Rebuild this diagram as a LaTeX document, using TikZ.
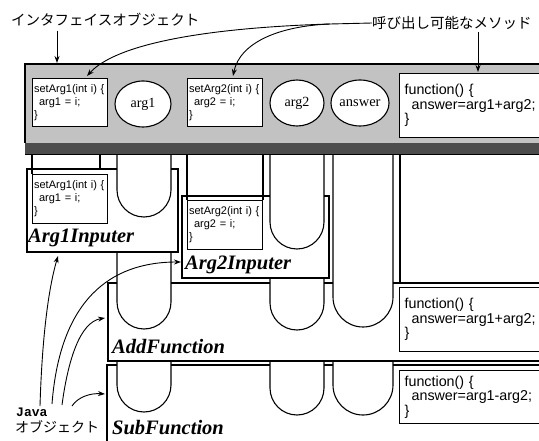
\documentclass[tikz,border=0pt]{standalone}
\usepackage{fontspec}
\setmainfont{Liberation Serif}
\setsansfont{Liberation Sans}
\setmonofont{Liberation Mono}
\newfontfamily\jpfont{Noto Sans CJK JP}
\usetikzlibrary{arrows.meta,shapes.geometric}
\tikzset{
  ln/.style={line width=1.1pt},
  arr/.style={line width=0.9pt,-{Stealth[length=7pt,width=5pt]}},
  mbox/.style={draw, line width=1.2pt, fill=white, anchor=north west, inner xsep=1.5pt, inner ysep=0pt,
    text width=72pt, minimum height=48pt, align=left, font=\sffamily\fontsize{11}{13}\selectfont},
  fbox/.style={draw, line width=1.2pt, fill=white, anchor=north west, inner xsep=5pt, inner ysep=0pt,
    text width=136pt, align=left, font=\sffamily\fontsize{14.3}{14.5}\selectfont},
  var/.style={draw, ellipse, line width=1.1pt, fill=white, inner sep=0pt, minimum height=46pt,
    font=\fontsize{14}{14}\selectfont},
  objlbl/.style={anchor=base west, inner sep=0pt, font=\bfseries\itshape\fontsize{20.5}{20}\selectfont},
  jplbl/.style={inner sep=0pt, font=\jpfont\fontsize{14.5}{14}\selectfont},
}
\newcommand\myU[4]{%
  \pgfmathsetmacro\uxc{(#1+#2)/2}\pgfmathsetmacro\ur{(#2-#1)/2}%
  \pgfmathsetmacro\uyc{#4-\ur}\pgfmathsetmacro\uk{0.552*\ur}%
  \draw[ln] (#1,#3) -- (#1,\uyc) .. controls (#1,\uyc+\uk) and (\uxc-\uk,#4) .. (\uxc,#4)
    .. controls (\uxc+\uk,#4) and (#2,\uyc+\uk) .. (#2,\uyc) -- (#2,#3);}
\begin{document}
\begin{tikzpicture}[x=1pt,y=-1pt]
\useasboundingbox (0,0) rectangle (539,441);
\clip (0,0) rectangle (539,441);
% interface object
\fill[black!24] (25,64) rectangle (545,143);
\draw[line width=1.3pt] (25,143) -- (25,64) -- (545,64);
\fill[black!70] (25,143) rectangle (545,155);
\draw[line width=1pt] (25,155) -- (545,155);
\node[mbox] (m1) at (32,78) {setArg1(int i) \{\\\hspace*{5pt}arg1 = i;\\\}};
\node[var, minimum width=56pt] (v1) at (143,104) {arg1};
\node[mbox] (m2) at (187,78) {setArg2(int i) \{\\\hspace*{5pt}arg2 = i;\\\}};
\node[var, minimum width=54pt] (v2) at (297,103) {arg2};
\node[var, minimum width=55pt, font=\fontsize{14.5}{14}\selectfont] (v3) at (360,103) {answer};
\node[fbox, minimum height=64pt] (f0) at (399,73) {function() \{\\\hspace*{7pt}answer=arg1+arg2;\\\}};
% pipes from the interface
\draw[ln] (32,155) -- (32,174);
\draw[ln] (100,155) -- (100,169);
\myU{117}{171}{155}{217}
\draw[ln] (187,155) -- (187,200);
\draw[ln] (263,155) -- (263,200);
\myU{270}{324}{155}{249}
\myU{333}{393}{155}{327}
\draw[ln] (400,155) -- (400,283);
% Arg1Inputer
\draw[ln] (117,169) -- (27,169) -- (27,252) -- (178,252) -- (178,169) -- (171,169);
\node[mbox, minimum height=49pt] (m1b) at (32,174) {setArg1(int i) \{\\\hspace*{5pt}arg1 = i;\\\}};
\node[objlbl] (o1) at (28,243) {Arg1Inputer};
% Arg2Inputer
\draw[ln] (270,196) -- (182,196) -- (182,278) -- (329,278) -- (329,196) -- (324,196);
\node[mbox, minimum height=49pt] (m2b) at (187,200) {setArg2(int i) \{\\\hspace*{5pt}arg2 = i;\\\}};
\node[objlbl] (o2) at (185,270) {Arg2Inputer};
% AddFunction
\myU{117}{171}{252}{329}
\myU{270}{324}{278}{330}
\draw[ln] (117,283) -- (108,283) -- (108,361) -- (545,361);
\draw[ln] (171,283) -- (270,283);
\draw[ln] (324,283) -- (333,283);
\draw[ln] (393,283) -- (545,283);
\node[fbox, minimum height=64pt] (f1) at (399,287) {function() \{\\\hspace*{7pt}answer=arg1+arg2;\\\}};
\node[objlbl] (o3) at (112,353) {AddFunction};
% SubFunction
\draw[ln] (117,365) -- (107,365) -- (107,445);
\draw[ln] (171,365) -- (270,365);
\draw[ln] (324,365) -- (333,365);
\draw[ln] (393,365) -- (545,365);
\myU{117}{171}{361}{412}
\myU{270}{324}{361}{415}
\myU{333}{393}{361}{415}
\node[fbox, minimum height=53pt] (f2) at (399,370) {function() \{\\\hspace*{7pt}answer=arg1-arg2;\\\}};
\node[objlbl] (o4) at (112,434) {SubFunction};
% labels
\node[jplbl, anchor=west] (jif) at (11,20) {インタフェイスオブジェクト};
\node[jplbl, anchor=west] (jcm) at (372,23) {呼び出し可能なメソッド};
\node[inner sep=0pt, anchor=west, font=\ttfamily\bfseries\fontsize{13}{13}\selectfont] (java) at (16,412) {Java};
\node[jplbl, anchor=west, font=\jpfont\fontsize{14}{14}\selectfont] (jjo) at (15,427) {オブジェクト};
% arrows from labels
\coordinate (ifs) at (57,31);
\coordinate (ift) at (57,63);
\draw[arr] (ifs) -- (ift);
\coordinate (split) at (330,24);
\draw[line width=0.9pt] (jcm.west) -- (split);
\coordinate (t1) at (87,76);
\coordinate (t2) at (233,76);
\draw[arr] (split) .. controls (200,28) and (115,45) .. (t1);
\draw[arr] (split) .. controls (280,26) and (240,42) .. (t2);
\coordinate (cms) at (478,32);
\coordinate (cmt) at (478,72);
\draw[arr] (cms) -- (cmt);
% Java object arrows
\coordinate (s1) at (40,406);
\coordinate (s2) at (52,404);
\coordinate (s3) at (62,405);
\coordinate (s4) at (72,406);
\coordinate (a1) at (58,256);
\coordinate (a2) at (181,262);
\coordinate (a3) at (105,318);
\coordinate (a4) at (105,394);
\draw[arr] (s1) .. controls (42,340) and (48,290) .. (a1);
\draw[arr] (s2) .. controls (60,300) and (110,262) .. (a2);
\draw[arr] (s3) .. controls (68,360) and (80,322) .. (a3);
\draw[arr] (s4) .. controls (78,397) and (90,393) .. (a4);
\end{tikzpicture}
\end{document}
